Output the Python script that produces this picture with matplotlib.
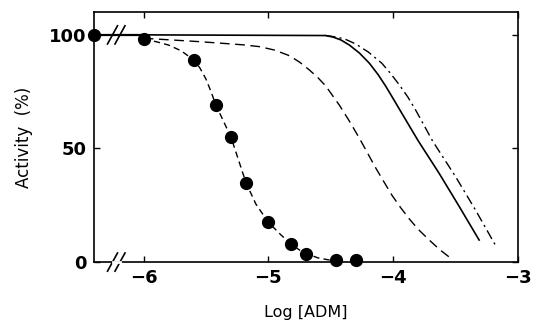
import matplotlib
matplotlib.use("Agg")
import matplotlib.pyplot as plt

# measured points (log [ADM] vs activity %)
pts_x = [-6.4, -6.0, -5.6, -5.42, -5.3, -5.18, -5.0, -4.82, -4.7, -4.46, -4.3]
pts_y = [100, 98, 89, 69, 55, 35, 17.5, 8, 3.5, 1, 1]

# fitted curve through the points (short dashes)
fit_x = [-6.0, -5.9, -5.8, -5.7, -5.6, -5.55, -5.5, -5.46, -5.42, -5.36, -5.3,
         -5.24, -5.18, -5.1, -5.0, -4.9, -4.82, -4.75, -4.7, -4.6, -4.5]
fit_y = [98, 97, 95.5, 93, 89, 85.5, 80.5, 75, 69, 62, 55,
         45, 35, 25.5, 17.5, 12, 8, 5.3, 3.8, 1.8, 0.8]

# long dashed curve
ld_x = [-6.0, -5.55, -5.2, -5.07, -4.95, -4.83, -4.75, -4.67, -4.6, -4.54, -4.43,
        -4.35, -4.27, -4.2, -4.14, -4.07, -4.01, -3.94, -3.87, -3.8, -3.71,
        -3.62, -3.54]
ld_y = [98.5, 97, 95.6, 94.8, 93.3, 90.8, 88, 84.5, 81, 77.5, 69,
        62, 54.5, 47.5, 41.5, 35, 29.5, 24, 19, 14.5, 9.7,
        5.2, 1.8]

# solid curve
so_x = [-6.0, -4.54, -4.48, -4.42, -4.35, -4.27, -4.19, -4.12, -4.06, -4.0,
        -3.93, -3.8, -3.63, -3.47, -3.31]
so_y = [100, 99.7, 99, 97.8, 95.5, 92, 87.5, 82.5, 77.5, 72,
        65.5, 53.5, 39, 24.5, 9.7]

# dash-dot curve
dd_x = [-4.54, -4.45, -4.38, -4.30, -4.2, -4.09, -4.02, -3.95, -3.88, -3.82,
        -3.75, -3.68, -3.50, -3.34, -3.18]
dd_y = [99.7, 99, 98, 96, 92.5, 87.5, 83, 78, 72.5, 67,
        60, 53, 37.7, 23, 7.5]

xticks = [-6, -5, -4, -3]
xticklabels = ["\u22126", "\u22125", "\u22124", "\u22123"]
yticks = [0, 50, 100]

fig = plt.figure(figsize=(5.36, 3.28), dpi=100)
ax = fig.add_axes([0.175, 0.201, 0.791, 0.762])

ax.plot([-6.4, -6.0], [100, 100], color="black", lw=1.6, clip_on=False)
ax.plot(fit_x, fit_y, color="black", lw=1.0, dashes=(4.5, 3))
ax.plot(ld_x, ld_y, color="black", lw=1.0, dashes=(7, 4))
ax.plot(so_x, so_y, color="black", lw=1.2)
ax.plot(dd_x, dd_y, color="black", lw=1.0, dashes=(7, 3, 1.5, 3))
ax.plot(pts_x, pts_y, "o", color="black", ms=8.5, clip_on=False, zorder=5)

# axis break marks
for bx, by in [(-6.22, 100), (-6.22, 0)]:
    for dx in (-0.03, 0.03):
        ax.plot([bx + dx - 0.04, bx + dx + 0.04], [by - 4, by + 4],
                color="black", lw=1.2, clip_on=False)
ax.plot([-6.22 - 0.03, -6.22 + 0.03], [0, 0], color="white", lw=2, clip_on=False, zorder=3)

ax.set_xlim(-6.4, -3)
ax.set_ylim(0, 110)
ax.set_xticks(xticks)
ax.set_xticklabels(xticklabels)
ax.set_yticks(yticks)
ax.tick_params(direction="in", top=True, right=True, length=4, width=1,
               labelsize=13, pad=5)
for lab in ax.get_xticklabels() + ax.get_yticklabels():
    lab.set_fontweight("bold")
for sp in ax.spines.values():
    sp.set_linewidth(1.2)

ax.set_ylabel("Activity  (%)", fontsize=12, labelpad=12)
ax.set_xlabel("Log [ADM]", fontsize=11.5, labelpad=13)

fig.savefig("out.png", dpi=100)
